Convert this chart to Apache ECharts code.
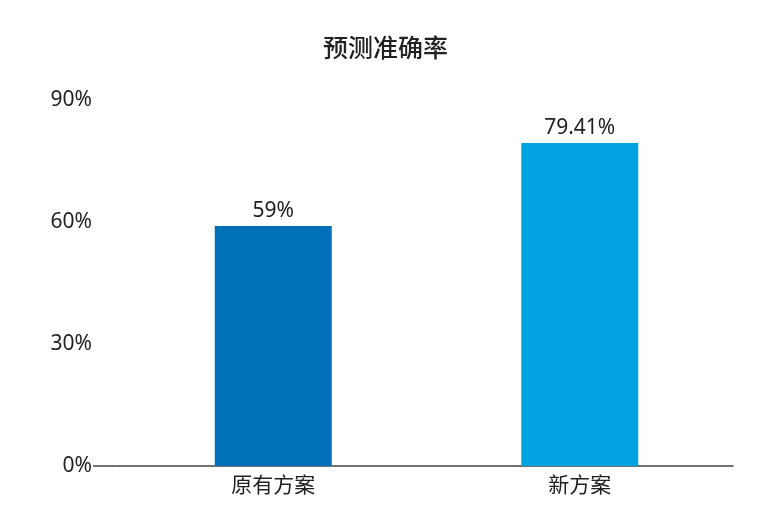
<!DOCTYPE html>
<html><head><meta charset="utf-8">
<script src="https://cdn.jsdelivr.net/npm/echarts@6/dist/echarts.min.js"></script>
<style>html,body{margin:0;padding:0;background:#fff}#c{width:771px;height:527px}</style>
</head><body><div id="c"></div>
<script>
const categories = ['原有方案', '新方案'];
const values = [59, 79.41];
const colors = ['#0070b8', '#00a3e0'];
const chart = echarts.init(document.getElementById('c'));
chart.setOption({
  backgroundColor: '#fff',
  title: { text: '预测准确率', left: 'center', top: 30, textStyle: { fontFamily: 'Noto Sans CJK SC', fontSize: 25, fontWeight: 500, color: '#222' } },
  grid: { left: 120, right: 38, top: 100, bottom: 61 },
  xAxis: { type: 'category', data: categories, axisTick: { show: false },
    axisLine: { lineStyle: { color: '#444', width: 1.5 } },
    axisLabel: { fontFamily: 'Noto Sans CJK SC', fontSize: 21, color: '#222', margin: 8 } },
  yAxis: { type: 'value', min: 0, max: 90, interval: 30, splitLine: { show: false },
    axisLabel: { formatter: '{value}%', fontFamily: 'Noto Sans', fontSize: 21, color: '#222', margin: 28 } },
  graphic: [{ type: 'line', shape: { x1: 93, y1: 466, x2: 120, y2: 466 }, style: { stroke: '#444', lineWidth: 1.5 } }],
  series: [{ type: 'bar', barWidth: 117,
    data: values.map((v, i) => ({ value: v, itemStyle: { color: colors[i] } })),
    label: { show: true, position: 'top', formatter: p => p.value + '%', fontFamily: 'Noto Sans', fontSize: 21, color: '#222' } }]
});
</script></body></html>
